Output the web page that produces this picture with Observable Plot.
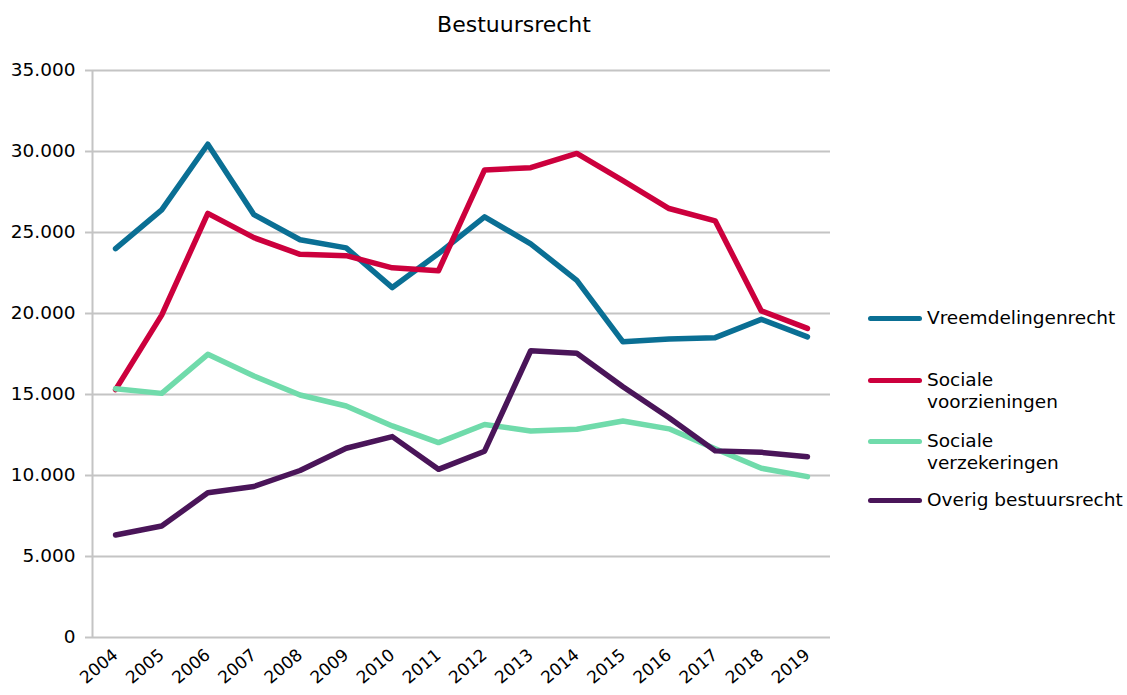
<!DOCTYPE html>
<html>
<head>
<meta charset="utf-8">
<script src="https://cdn.jsdelivr.net/npm/d3@7"></script>
<script src="https://cdn.jsdelivr.net/npm/@observablehq/plot@0.6"></script>
<style>
  html, body { margin: 0; padding: 0; background: #fff; }
  #wrap { position: relative; width: 1127px; height: 695px; font-family: "DejaVu Sans", Verdana, sans-serif; color: #000; }
  #title { height: 50px; line-height: 50px; font-size: 22px; text-align: center; width: 1028px; }
  #legend { position: absolute; left: 866px; top: 0; width: 261px; }
  .item { position: absolute; left: 0; font-size: 18.5px; line-height: 22px; }
  .sw { position: absolute; left: 2px; width: 54px; height: 5px; border-radius: 3px; }
  .lbl { position: absolute; left: 61px; white-space: nowrap; }
  svg { display: block; }
</style>
</head>
<body>
<div id="wrap">
  <div id="title">Bestuursrecht</div>
  <div id="chart"></div>
  <div id="legend"></div>
</div>
<script>
const years = [2004,2005,2006,2007,2008,2009,2010,2011,2012,2013,2014,2015,2016,2017,2018,2019];
const seriesNames = ["Vreemdelingenrecht", "Sociale voorzieningen", "Sociale verzekeringen", "Overig bestuursrecht"];
const legendLines = [["Vreemdelingenrecht"], ["Sociale", "voorzieningen"], ["Sociale", "verzekeringen"], ["Overig bestuursrecht"]];
const colors = ["#0a6f94", "#cc003d", "#70dbab", "#4a1559"];

const vreemdelingenrecht   = [24000, 26400, 30450, 26100, 24550, 24050, 21600, 23700, 25970, 24300, 22050, 18250, 18430, 18510, 19640, 18560];
const socialeVoorzieningen = [15300, 19900, 26180, 24680, 23650, 23570, 22820, 22640, 28860, 29000, 29880, 28200, 26480, 25720, 20160, 19080];
const socialeVerzekeringen = [15360, 15070, 17480, 16140, 14970, 14290, 13060, 12030, 13150, 12750, 12850, 13360, 12880, 11650, 10450, 9930];
const overigBestuursrecht  = [6330, 6880, 8930, 9320, 10310, 11680, 12400, 10380, 11500, 17700, 17540, 15480, 13570, 11520, 11430, 11160];

const yTicks = [0, 5000, 10000, 15000, 20000, 25000, 30000, 35000];

const seriesValues = [vreemdelingenrecht, socialeVoorzieningen, socialeVerzekeringen, overigBestuursrecht];
const rows = [];
seriesNames.forEach((s, i) => years.forEach((y, j) => rows.push({year: y, series: s, value: seriesValues[i][j]})));

const fmt = d => d3.format(",")(d).replace(/,/g, ".");
const xMin = years[0] - 0.5, xMax = years[years.length - 1] + 0.5;

const chart = Plot.plot({
  width: 1127,
  height: 645,
  marginTop: 20,
  marginBottom: 58,
  marginLeft: 92,
  marginRight: 297,
  style: {fontFamily: "DejaVu Sans, Verdana, sans-serif", fontSize: "18px", color: "#000", background: "#fff"},
  x: {type: "linear", domain: [xMin, xMax], label: null},
  y: {domain: [0, 35000], label: null},
  color: {domain: seriesNames, range: colors},
  marks: [
    Plot.ruleY(yTicks, {stroke: "#c4c4c4", strokeWidth: 2}),
    Plot.ruleX([xMin], {stroke: "#c4c4c4", strokeWidth: 2}),
    Plot.axisY({ticks: yTicks, tickFormat: fmt, tickSize: 7, tickPadding: 10, stroke: "#c4c4c4", strokeWidth: 2, fontSize: "18.5px", fill: "#000"}),
    Plot.axisX({ticks: years, tickSize: 0, tickRotate: -40, tickPadding: 15, tickFormat: d => String(d), fontSize: "17px", fill: "#000"}),
    Plot.lineY(rows, {x: "year", y: "value", stroke: "series", z: "series", strokeWidth: 5.5, strokeLinejoin: "round", strokeLinecap: "round"})
  ]
});
document.getElementById("chart").appendChild(chart);

// legend
const legendY = [318, 380, 441, 500];
const legend = document.getElementById("legend");
seriesNames.forEach((s, i) => {
  const item = document.createElement("div");
  item.className = "item";
  item.style.top = (legendY[i] - 11) + "px";
  const sw = document.createElement("div");
  sw.className = "sw";
  sw.style.background = colors[i];
  sw.style.top = "9px";
  const lbl = document.createElement("div");
  lbl.className = "lbl";
  lbl.innerHTML = legendLines[i].join("<br>");
  item.appendChild(sw);
  item.appendChild(lbl);
  legend.appendChild(item);
});
</script>
</body>
</html>
